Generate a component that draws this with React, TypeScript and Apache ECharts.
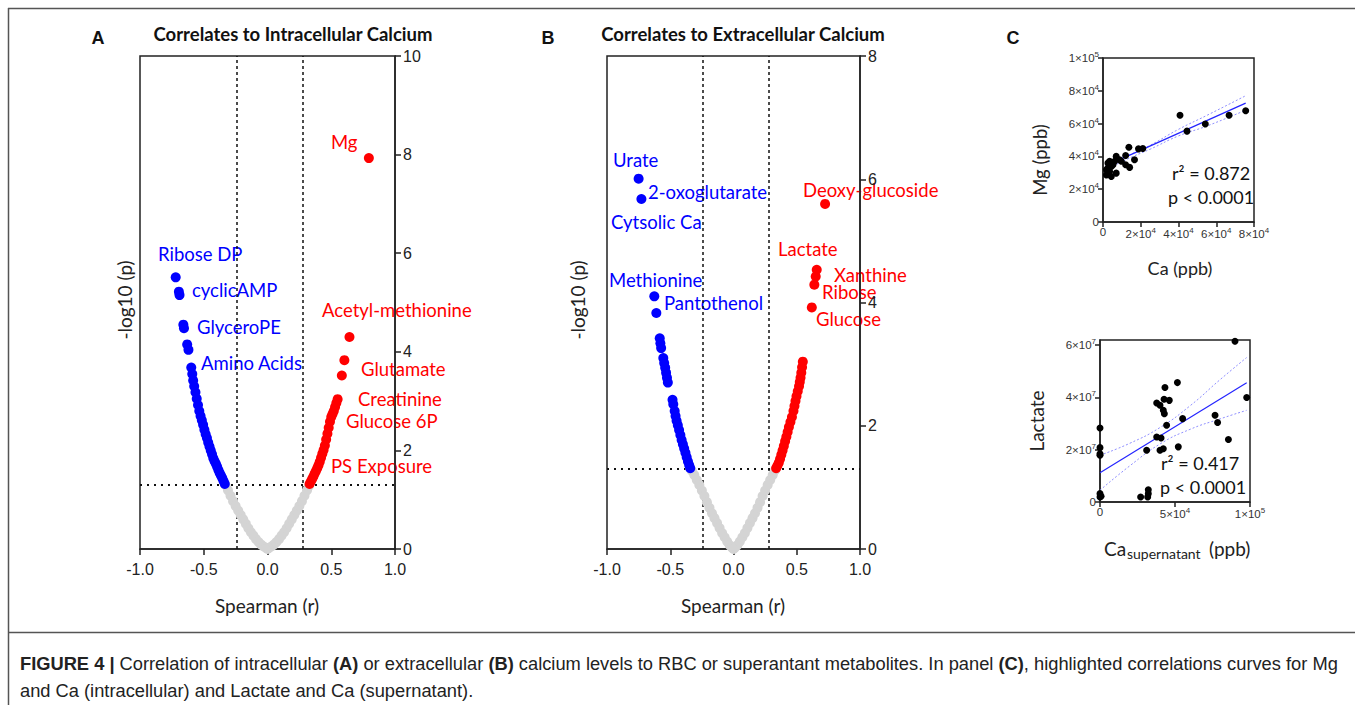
import React, { useEffect, useRef } from "react";
import * as echarts from "echarts";

// ---------- Data ----------
const rThreshold = [-0.24, 0.28];
const pThreshold = 1.3;

// Panel A (intracellular) : [spearman r, -log10 p]
const aGrey = [[-0.33,1.30],[-0.31,1.19],[-0.29,1.08],[-0.27,0.97],[-0.25,0.87],[-0.23,0.78],[-0.21,0.69],[-0.19,0.60],[-0.17,0.51],[-0.15,0.42],[-0.13,0.34],[-0.11,0.27],[-0.09,0.20],[-0.07,0.14],[-0.05,0.09],[-0.03,0.05],[-0.01,0.02],[0,0],[0.01,0.02],[0.03,0.05],[0.05,0.09],[0.07,0.14],[0.09,0.20],[0.11,0.27],[0.13,0.34],[0.15,0.42],[0.17,0.51],[0.19,0.60],[0.21,0.69],[0.23,0.78],[0.25,0.87],[0.27,0.97],[0.29,1.08],[0.31,1.19],[0.325,1.28]];
const aBlue = [[-0.335,1.32],[-0.345,1.38],[-0.355,1.44],[-0.365,1.49],[-0.375,1.54],[-0.385,1.60],[-0.395,1.67],[-0.405,1.73],[-0.415,1.78],[-0.425,1.84],[-0.435,1.92],[-0.445,2.00],[-0.455,2.08],[-0.465,2.16],[-0.475,2.25],[-0.485,2.33],[-0.495,2.42],[-0.505,2.52],[-0.515,2.61],[-0.525,2.70],[-0.535,2.80],[-0.545,2.92],[-0.555,3.05],[-0.565,3.18],[-0.575,3.30],[-0.583,3.42],[-0.59,3.55],[-0.598,3.68],[-0.62,4.04],[-0.63,4.15],[-0.655,4.48],[-0.66,4.55],[-0.69,5.15],[-0.695,5.22],[-0.72,5.51]];
const aRed = [[0.33,1.32],[0.34,1.37],[0.35,1.42],[0.36,1.47],[0.37,1.53],[0.38,1.58],[0.39,1.64],[0.40,1.70],[0.41,1.77],[0.42,1.85],[0.43,1.93],[0.44,2.01],[0.45,2.10],[0.46,2.22],[0.47,2.34],[0.48,2.46],[0.49,2.58],[0.50,2.68],[0.51,2.74],[0.52,2.80],[0.53,2.88],[0.54,2.96],[0.55,3.04],[0.583,3.52],[0.603,3.83],[0.643,4.30],[0.795,7.93]];

// Panel B (extracellular)
const bGrey = [[-0.342,1.31],[-0.33,1.27],[-0.31,1.20],[-0.29,1.12],[-0.27,1.04],[-0.25,0.95],[-0.23,0.86],[-0.21,0.76],[-0.19,0.67],[-0.17,0.58],[-0.15,0.50],[-0.13,0.42],[-0.11,0.34],[-0.09,0.26],[-0.07,0.19],[-0.05,0.12],[-0.03,0.06],[-0.01,0.02],[0,0],[0.01,0.02],[0.03,0.06],[0.05,0.12],[0.07,0.19],[0.09,0.26],[0.11,0.34],[0.13,0.42],[0.15,0.50],[0.17,0.58],[0.19,0.67],[0.21,0.76],[0.23,0.86],[0.25,0.95],[0.27,1.04],[0.29,1.12],[0.31,1.20],[0.33,1.28]];
const bBlue = [[-0.583,3.42],[-0.578,3.34],[-0.572,3.26],[-0.555,3.10],[-0.548,3.02],[-0.540,2.94],[-0.533,2.86],[-0.526,2.78],[-0.519,2.70],[-0.482,2.42],[-0.476,2.35],[-0.465,2.24],[-0.458,2.16],[-0.450,2.08],[-0.44,2.01],[-0.43,1.93],[-0.42,1.85],[-0.41,1.77],[-0.40,1.70],[-0.39,1.63],[-0.38,1.56],[-0.37,1.49],[-0.36,1.42],[-0.35,1.36],[-0.342,1.31],[-0.61,3.83],[-0.626,4.10],[-0.728,5.68],[-0.75,6.01]];
const bRed = [[0.548,3.04],[0.542,2.95],[0.536,2.86],[0.530,2.78],[0.524,2.71],[0.518,2.64],[0.508,2.56],[0.498,2.48],[0.490,2.40],[0.482,2.32],[0.474,2.24],[0.462,2.14],[0.450,2.06],[0.438,1.98],[0.428,1.90],[0.418,1.82],[0.408,1.75],[0.398,1.67],[0.388,1.60],[0.378,1.53],[0.368,1.46],[0.358,1.40],[0.347,1.35],[0.337,1.31],[0.619,3.92],[0.639,4.29],[0.650,4.42],[0.658,4.53],[0.724,5.60]];

// Panel C top: Ca (ppb) vs Mg (ppb)
const mgCa = [[40800,65100],[44500,55400],[54200,59800],[66800,65100],[75600,67800],[13700,45600],[18800,44600],[21100,44800],[12000,40500],[16700,38000],[14100,33300],[12000,34900],[7000,40000],[8800,38000],[6200,37000],[2600,35900],[3500,30800],[1800,28700],[4400,27700],[7000,29800],[2600,32900],[4400,33900],[9700,37000],[3500,37000],[5300,34900],[1800,31800]];
const mgFit = [[1500,34200],[75600,72500]];
const mgUpper = [[1500,36500],[8000,38600],[16000,42000],[25000,46800],[40000,56500],[55000,65000],[75600,77000]];
const mgLower = [[1500,32000],[8000,35600],[16000,40000],[25000,44400],[40000,52500],[55000,58500],[75600,68200]];

// Panel C bottom: Ca supernatant (ppb) vs Lactate
const lacCa = [[90000,61500000],[97800,40000000],[51600,45700000],[43300,43800000],[37800,37900000],[40000,37000000],[42700,39300000],[46200,38900000],[42200,35100000],[42900,33800000],[44400,29400000],[55100,31900000],[76700,33200000],[78400,30400000],[85600,23900000],[37800,24900000],[40700,24500000],[42200,20400000],[40000,19800000],[31100,19800000],[52200,21100000],[0,28300000],[0,20800000],[0,18500000],[0,17900000],[0,3200000],[700,2200000],[0,1900000],[27100,1900000],[32200,3200000],[32200,4700000],[31800,1900000]];
const lacFit = [[0,11200000],[97800,45600000]];
const lacUpper = [[0,17900000],[20000,22500000],[40000,28500000],[60000,36800000],[80000,46800000],[97800,55300000]];
const lacLower = [[0,4500000],[20000,13900000],[40000,22200000],[60000,27800000],[80000,31800000],[97800,35100000]];

// Annotation labels
const labelsA = [
  { text: "Mg", color: "#ff0000", x: 331, y: 142 },
  { text: "Ribose DP", color: "#0000ff", x: 158, y: 254 },
  { text: "cyclicAMP", color: "#0000ff", x: 192, y: 290 },
  { text: "GlyceroPE", color: "#0000ff", x: 197, y: 327 },
  { text: "Amino Acids", color: "#0000ff", x: 201, y: 363 },
  { text: "Acetyl-methionine", color: "#ff0000", x: 322, y: 310 },
  { text: "Glutamate", color: "#ff0000", x: 361, y: 369 },
  { text: "Creatinine", color: "#ff0000", x: 358, y: 399 },
  { text: "Glucose 6P", color: "#ff0000", x: 346, y: 421 },
  { text: "PS Exposure", color: "#ff0000", x: 331, y: 466 },
];
const labelsB = [
  { text: "Urate", color: "#0000ff", x: 613, y: 160 },
  { text: "2-oxoglutarate", color: "#0000ff", x: 648, y: 192 },
  { text: "Cytsolic Ca", color: "#0000ff", x: 611, y: 222 },
  { text: "Methionine", color: "#0000ff", x: 609, y: 280 },
  { text: "Pantothenol", color: "#0000ff", x: 664, y: 303 },
  { text: "Deoxy-glucoside", color: "#ff0000", x: 803, y: 190 },
  { text: "Lactate", color: "#ff0000", x: 778, y: 249 },
  { text: "Xanthine", color: "#ff0000", x: 834, y: 275 },
  { text: "Ribose", color: "#ff0000", x: 822, y: 292 },
  { text: "Glucose", color: "#ff0000", x: 816, y: 319 },
];

const CAL = "Lato, 'Open Sans', sans-serif";
const ARIAL = "'Liberation Sans', Arial, sans-serif";
const AX = "#222";

const sciFmt = (v: number) => {
  if (v === 0) return "0";
  const e = Math.floor(Math.log10(v) + 1e-9);
  const m = Math.round((v / Math.pow(10, e)) * 100) / 100;
  return `{a|${m}×10}{s|${e}}`;
};

function volcanoX(gi: number) {
  return {
    gridIndex: gi, type: "value", min: -1, max: 1, interval: 0.5,
    axisLine: { show: true, onZero: false, lineStyle: { color: AX, width: 1.5 } },
    axisTick: { show: true, length: 6, lineStyle: { color: AX, width: 1.5 } },
    axisLabel: { formatter: (v: number) => v.toFixed(1), fontFamily: ARIAL, fontSize: 16, color: AX, margin: 12 },
    splitLine: { show: false },
  };
}
function volcanoY(gi: number, max: number) {
  return {
    gridIndex: gi, type: "value", position: "right", min: 0, max, interval: 2,
    axisLine: { show: true, onZero: false, lineStyle: { color: AX, width: 1.5 } },
    axisTick: { show: true, length: 6, lineStyle: { color: AX, width: 1.5 } },
    axisLabel: { fontFamily: ARIAL, fontSize: 16, color: AX, margin: 8 },
    splitLine: { show: false },
  };
}
function smallAxis(gi: number, max: number, interval: number, pos: string) {
  return {
    gridIndex: gi, type: "value", min: 0, max, interval, position: pos,
    axisLine: { show: true, onZero: false, lineStyle: { color: AX, width: 1.5 } },
    axisTick: { show: true, length: 5, lineStyle: { color: AX, width: 1.5 } },
    axisLabel: {
      fontFamily: ARIAL, fontSize: 11.5, color: "#333", margin: 4, showMaxLabel: max % interval === 0,
      formatter: (v: number) => (v % interval === 0 ? sciFmt(v) : ""),
      rich: {
        a: { fontFamily: ARIAL, fontSize: 11.5, color: "#333", lineHeight: 15 },
        s: { fontFamily: ARIAL, fontSize: 8, color: "#333", lineHeight: 9, verticalAlign: "top" },
      },
    },
    splitLine: { show: false },
  };
}

function volcanoSeries(ai: number, grey: number[][], blue: number[][], red: number[][]) {
  const base = { type: "scatter", xAxisIndex: ai, yAxisIndex: ai, symbolSize: 10 };
  return [
    {
      ...base, data: grey, itemStyle: { color: "#d4d4d4", opacity: 1 }, z: 3,
      markLine: {
        silent: true, symbol: "none", label: { show: false }, z: 1,
        data: [
          { xAxis: rThreshold[0], lineStyle: { color: "#111", type: [3, 3], width: 1.5 } },
          { xAxis: rThreshold[1], lineStyle: { color: "#111", type: [3, 3], width: 1.5 } },
          { yAxis: pThreshold, lineStyle: { color: "#111", type: [2, 5], width: 2 } },
        ],
      },
    },
    { ...base, data: blue, itemStyle: { color: "#0000ff", opacity: 1 }, z: 4 },
    { ...base, data: red, itemStyle: { color: "#ff0000", opacity: 1 }, z: 4 },
  ];
}

function lineSeries(ai: number, data: number[][], dotted: boolean) {
  return {
    type: "line", xAxisIndex: ai, yAxisIndex: ai, data, showSymbol: false, symbol: "none",
    smooth: dotted, silent: true, z: 3,
    lineStyle: dotted ? { color: "#8f8fff", width: 1, type: [2, 2] } : { color: "#2424ff", width: 1.2 },
  };
}

function txt(text: string, x: number, y: number, opts: any = {}) {
  return {
    type: "text", x, y, rotation: opts.rotation || 0, silent: true,
    style: {
      text, fill: opts.color || "#222",
      font: opts.font || `16px ${CAL}`,
      align: opts.align || "left", verticalAlign: "middle",
    },
  };
}

export default function App() {
  const ref = useRef<HTMLDivElement>(null);
  useEffect(() => {
    if (!ref.current) return;
    const chart = echarts.init(ref.current, null, { renderer: "svg" });
    const grids = [
      { left: 140, top: 56, width: 255, height: 493 },
      { left: 607, top: 56, width: 253, height: 493 },
      { left: 1103, top: 58, width: 151, height: 164 },
      { left: 1100, top: 340, width: 150, height: 162 },
    ].map((g) => ({ ...g, show: true, borderColor: AX, borderWidth: 1.5, backgroundColor: "transparent", containLabel: false }));

    const graphic: any[] = [
      { type: "line", silent: true, shape: { x1: 8, y1: 8.5, x2: 1355, y2: 8.5 }, style: { stroke: "#555", lineWidth: 1.5 } },
      { type: "line", silent: true, shape: { x1: 8.5, y1: 8, x2: 8.5, y2: 705 }, style: { stroke: "#555", lineWidth: 1.5 } },
      { type: "line", silent: true, shape: { x1: 8, y1: 632.5, x2: 1355, y2: 632.5 }, style: { stroke: "#555", lineWidth: 1.5 } },
      txt("A", 98, 38, { font: `bold 18px ${ARIAL}`, align: "center", color: "#111" }),
      txt("B", 548, 38, { font: `bold 18px ${ARIAL}`, align: "center", color: "#111" }),
      txt("C", 1013, 38, { font: `bold 18px ${ARIAL}`, align: "center", color: "#111" }),
      txt("Correlates to Intracellular Calcium", 293, 34, { font: `bold 18.5px ${CAL}`, align: "center", color: "#111" }),
      txt("Correlates to Extracellular Calcium", 743, 34, { font: `bold 18.5px ${CAL}`, align: "center", color: "#111" }),
      txt("Spearman (r)", 267, 605, { font: `19px ${CAL}`, align: "center" }),
      txt("Spearman (r)", 733, 605, { font: `19px ${CAL}`, align: "center" }),
      txt("-log10 (p)", 124, 300, { font: `19px ${CAL}`, align: "center", rotation: Math.PI / 2 }),
      txt("-log10 (p)", 577, 300, { font: `19px ${CAL}`, align: "center", rotation: Math.PI / 2 }),
      txt("Mg (ppb)", 1040, 160, { font: `18.5px ${CAL}`, align: "center", rotation: Math.PI / 2 }),
      txt("Ca (ppb)", 1180, 268, { font: `18px ${CAL}`, align: "center" }),
      txt("Lactate", 1036, 421, { font: `19px ${CAL}`, align: "center", rotation: Math.PI / 2 }),
      txt("Ca", 1104, 548, { font: `19px ${CAL}` }),
      txt("supernatant", 1127, 553, { font: `14px ${CAL}` }),
      txt("(ppb)", 1209, 548, { font: `19px ${CAL}` }),
      txt("r² = 0.872", 1172, 173, { font: `18px ${CAL}`, color: "#111" }),
      txt("p < 0.0001", 1168, 197, { font: `18px ${CAL}`, color: "#111" }),
      txt("r² = 0.417", 1161, 463, { font: `18px ${CAL}`, color: "#111" }),
      txt("p < 0.0001", 1160, 487, { font: `18px ${CAL}`, color: "#111" }),
      ...[...labelsA, ...labelsB].map((l) => txt(l.text, l.x, l.y, { font: `18.5px ${CAL}`, color: l.color })),
      {
        type: "text", x: 20, y: 663, silent: true,
        style: {
          text: "{b|FIGURE 4 |} Correlation of intracellular {b|(A)} or extracellular {b|(B)} calcium levels to RBC or superantant metabolites. In panel {b|(C)}, highlighted correlations curves for Mg",
          font: `18.3px ${ARIAL}`, fill: "#222", verticalAlign: "middle",
          rich: { b: { fontFamily: ARIAL, fontSize: 18.3, fontWeight: "bold", fill: "#222" } },
        },
      },
      txt("and Ca (intracellular) and Lactate and Ca (supernatant).", 20, 690, { font: `18.3px ${ARIAL}` }),
    ];

    chart.setOption({
      animation: false,
      grid: grids,
      xAxis: [volcanoX(0), volcanoX(1), smallAxis(2, 80000, 20000, "bottom"), smallAxis(3, 100000, 50000, "bottom")],
      yAxis: [volcanoY(0, 10), volcanoY(1, 8), smallAxis(2, 100000, 20000, "left"), smallAxis(3, 62000000, 20000000, "left")],
      series: [
        ...volcanoSeries(0, aGrey, aBlue, aRed),
        ...volcanoSeries(1, bGrey, bBlue, bRed),
        lineSeries(2, mgUpper, true), lineSeries(2, mgLower, true), lineSeries(2, mgFit, false),
        { type: "scatter", xAxisIndex: 2, yAxisIndex: 2, data: mgCa, symbolSize: 7, itemStyle: { color: "#000", opacity: 1 }, z: 4 },
        lineSeries(3, lacUpper, true), lineSeries(3, lacLower, true), lineSeries(3, lacFit, false),
        { type: "scatter", xAxisIndex: 3, yAxisIndex: 3, data: lacCa, symbolSize: 7, itemStyle: { color: "#000", opacity: 1 }, z: 4 },
      ],
      graphic,
    });
    return () => chart.dispose();
  }, []);
  return <div ref={ref} style={{ position: "fixed", left: 0, top: 0, width: 1355, height: 705, background: "#fff" }} />;
}
